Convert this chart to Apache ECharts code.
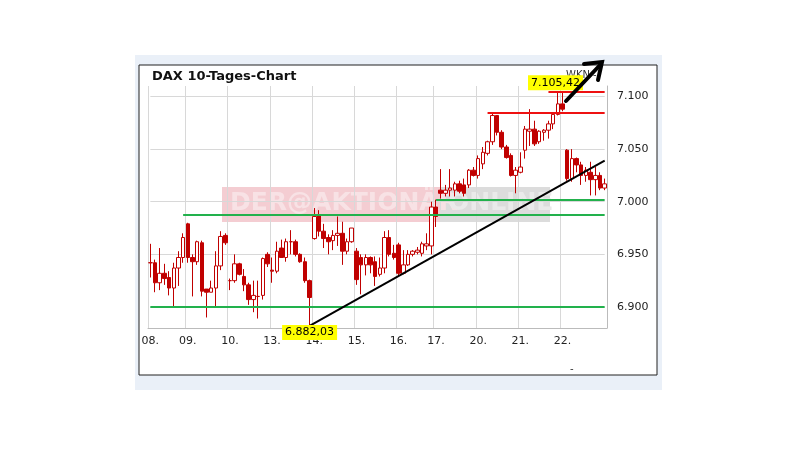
<!DOCTYPE html>
<html>
<head>
<meta charset="utf-8">
<script src="https://cdn.jsdelivr.net/npm/echarts@6/dist/echarts.min.js"></script>
<style>html,body{margin:0;padding:0;background:#fff}#chart{width:800px;height:450px}</style>
</head>
<body>
<div id="chart"></div>
<script>
// candle values (one entry per ~15min bar)
var opens  = [6942,6942,6923,6932,6928,6918,6937,6947,6979,6947,6943,6961,6917,6914,6918,6939,6968,6925,6925,6941,6929,6921,6907,6910,6911,6950,
              6935,6934,6956,6947,6962,6962,6950,6943,6925,6965,6987,6972,6966,6963,6968,6970,6953,6962,6953,6947,6940,6947,6943,6931,6937,6966,6951,6959,6932,6940,6950,6952,6951,6958,6958,6995,
              7011,7008,7011,7011,7017,7016,7016,7030,7025,7036,7046,7057,7082,7066,7052,7044,7025,7028,7049,7067,7069,7057,7066,7068,7074,7083,7093,
              7049,7022,7041,7035,7025,7028,7021,7025,7013];
var closes = [6942,6923,6932,6927,6918,6937,6947,6966,6947,6943,6962,6915,6914,6918,6939,6967,6961,6925,6941,6931,6921,6907,6911,6910,6946,6941,
              6934,6953,6947,6962,6962,6950,6943,6925,6909,6986,6972,6965,6962,6968,6970,6953,6962,6975,6926,6940,6947,6940,6929,6937,6966,6950,6947,6932,6940,6950,6953,6954,6960,6960,6995,6986,
              7008,7011,7013,7017,7010,7008,7030,7025,7041,7047,7057,7082,7066,7052,7042,7025,7030,7033,7069,7069,7055,7067,7068,7074,7083,7093,7088,
              7022,7041,7035,7025,7030,7021,7025,7013,7017];
var lows   = [6928,6914,6916,6921,6911,6900,6920,6942,6942,6910,6940,6910,6890,6914,6900,6935,6959,6916,6923,6930,6915,6902,6895,6889,6907,6938,
              6923,6932,6947,6943,6950,6948,6942,6923,6882,6964,6967,6956,6950,6954,6958,6940,6950,6961,6921,6912,6930,6932,6920,6929,6932,6948,6945,6929,6931,6939,6948,6950,6948,6954,6950,6976,
              7003,7005,7005,7005,7008,7005,7013,7024,7022,7031,7044,7054,7063,7050,7041,7024,7008,7027,7041,7053,7053,7055,7058,7060,7069,7082,7086,
              7020,7019,7028,7016,7019,7006,7006,7011,7011];
var highs  = [6960,6945,6956,6941,6934,6942,6953,6970,6980,6950,6963,6963,6917,6925,6953,6972,6970,6927,6950,6942,6936,6923,6925,6925,6947,6952,
              6947,6962,6964,6965,6973,6964,6951,6947,6926,6994,6992,6979,6969,6973,6986,6981,6965,6975,6956,6950,6950,6948,6948,6947,6972,6973,6959,6961,6954,6954,6954,6957,6962,6970,7000,7002,
              7031,7016,7031,7019,7020,7022,7031,7033,7044,7052,7058,7085,7082,7068,7054,7046,7033,7047,7072,7088,7077,7068,7069,7077,7085,7104,7105,
              7050,7050,7042,7038,7033,7038,7033,7028,7022];
var dayStarts = [0, 8, 17, 26, 35, 44, 53, 61, 70, 79, 88];
var dayLabels = ['08.', '09.', '10.', '13.', '14.', '15.', '16.', '17.', '20.', '21.', '22.'];
var yTicks = [6900, 6950, 7000, 7050, 7100];
var lowLabel = '6.882,03';
var highLabel = '7.105,42';

var categories = [];
var candles = [];
for (var i = 0; i < opens.length; i++) {
    var d = dayStarts.indexOf(i);
    categories.push(d >= 0 ? dayLabels[d] : ' ' + i);
    candles.push([opens[i], closes[i], lows[i], highs[i]]);
}
var last = opens.length - 1;

var chart = echarts.init(document.getElementById('chart'));

function hline(fromIdx, value, color) {
    return [{ coord: [fromIdx, value], lineStyle: { color: color } }, { coord: [last, value] }];
}
var gridLines = yTicks.map(function (v) {
    return [{ coord: [0, v], lineStyle: { color: '#d8d8d8', width: 1, type: 'solid' } }, { coord: [last, v] }];
});

var option = {
    animation: false,
    graphic: [
        { type: 'rect', z: -10, shape: { x: 135, y: 55, width: 527, height: 335 }, style: { fill: '#eaf0f8' } },
        { type: 'rect', z: -9, shape: { x: 139, y: 65, width: 518, height: 310 }, style: { fill: '#fff', stroke: '#222', lineWidth: 1 } },
        { type: 'text', left: 152, top: 70, style: { text: 'DAX 10-Tages-Chart', font: 'bold 13px Verdana, "DejaVu Sans", sans-serif', fill: '#111' } },
        // watermark
        { type: 'rect', z: -5, shape: { x: 222, y: 187, width: 218, height: 35 }, style: { fill: '#f4cdd2' } },
        { type: 'rect', z: -5, shape: { x: 440, y: 187, width: 110, height: 35 }, style: { fill: '#dcdcdc' } },
        { type: 'text', z: -4, left: 230, top: 191, style: { text: 'DER@AKTIONÄR', font: 'bold 25px "DejaVu Sans", sans-serif', fill: '#f8e2e5' } },
        { type: 'text', z: -4, left: 448, top: 191, style: { text: 'ONLINE', font: 'bold 25px "DejaVu Sans", sans-serif', fill: '#eaeaea' } },
        { type: 'text', left: 566, top: 70, style: { text: 'WKN -', font: '10px Verdana, "DejaVu Sans", sans-serif', fill: '#333' } },
        { type: 'text', left: 570, top: 364, style: { text: '-', font: '10px Verdana, "DejaVu Sans", sans-serif', fill: '#333' } },
        // hand-drawn arrow
        { type: 'polyline', z: 100, shape: { points: [[566, 101], [601, 64]] }, style: { stroke: '#000', lineWidth: 4, lineCap: 'round' } },
        { type: 'polyline', z: 100, shape: { points: [[584, 64], [602, 62], [598, 80]] }, style: { stroke: '#000', lineWidth: 4, lineCap: 'round', fill: null } }
    ],
    grid: { left: 148, right: 193, top: 86, bottom: 122 },
    xAxis: {
        type: 'category',
        data: categories,
        boundaryGap: true,
        axisLine: { lineStyle: { color: '#bbb' } },
        axisTick: { show: false },
        axisLabel: {
            interval: function (idx) { return dayStarts.indexOf(idx) >= 0; },
            color: '#222', fontSize: 11, fontFamily: 'Verdana, "DejaVu Sans", sans-serif', margin: 8
        },
        splitLine: {
            show: true,
            interval: function (idx) { return dayStarts.indexOf(idx) >= 0; },
            lineStyle: { color: '#d8d8d8' }
        }
    },
    yAxis: {
        type: 'value',
        position: 'right',
        min: 6880,
        max: 7110,
        interval: 10,
        axisLine: { show: true, lineStyle: { color: '#bbb' } },
        axisTick: { show: false },
        splitLine: { show: false },
        axisLabel: {
            margin: 10,
            color: '#222', fontSize: 11, fontFamily: 'Verdana, "DejaVu Sans", sans-serif',
            formatter: function (v) { return yTicks.indexOf(v) >= 0 ? (v / 1000).toFixed(3) : ''; }
        }
    },
    series: [{
        type: 'candlestick',
        data: candles,
        barWidth: 4,
        itemStyle: { color: '#ffffff', color0: '#c00000', borderColor: '#c00000', borderColor0: '#c00000', borderWidth: 1 },
        markLine: {
            silent: true,
            symbol: 'none',
            label: { show: false },
            z: 1,
            data: gridLines
        },
        markPoint: {
            symbol: 'circle', symbolSize: 0,
            label: {
                show: true, color: '#000', backgroundColor: '#ffff00', padding: [2, 3],
                fontSize: 11, fontFamily: 'Verdana, "DejaVu Sans", sans-serif'
            },
            data: [
                { coord: [34, 6882], label: { formatter: lowLabel, position: 'bottom', offset: [0, -6] } },
                { coord: [88, 7105], label: { formatter: highLabel, position: 'top', offset: [-7, 4] } }
            ]
        }
    }, {
        type: 'line',
        data: [],
        markLine: {
            silent: true,
            symbol: 'none',
            label: { show: false },
            lineStyle: { width: 2, type: 'solid' },
            data: [
                hline(0, 6900, '#22b14c'),
                hline(7, 6988, '#22b14c'),
                hline(61, 7002, '#22b14c'),
                hline(72, 7085, '#ee1111'),
                hline(85, 7105, '#ee1111'),
                [{ coord: [34, 6882], lineStyle: { color: '#000', width: 2 } }, { coord: [last, 7039] }]
            ]
        }
    }]
};
chart.setOption(option);
</script>
</body>
</html>
